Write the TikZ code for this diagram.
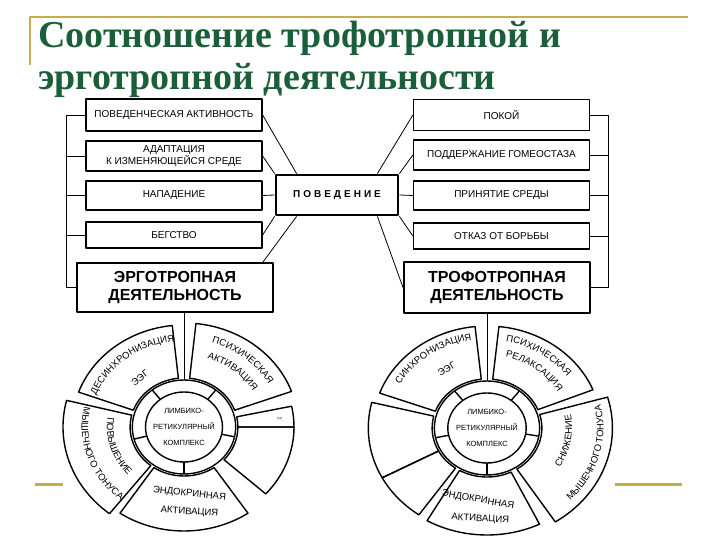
\documentclass[tikz,border=0pt]{standalone}
\usepackage{fontspec}
\setmainfont{Liberation Serif}
\setsansfont{Liberation Sans}
\usetikzlibrary{decorations.text}
\definecolor{titlegreen}{RGB}{26,94,58}
\definecolor{rulegold}{RGB}{196,174,72}
\newcommand\wheelfont{\sffamily\fontsize{9.5}{11}\selectfont}
\tikzset{
  headline/.style={anchor=base west, inner sep=0pt, text=titlegreen, font=\bfseries\fontsize{38}{42}\selectfont},
  smallbox/.style={draw, line width=1.3pt, minimum width=176pt, inner sep=0pt, align=center, font=\sffamily\fontsize{10}{12.5}\selectfont},
  bigbox/.style={draw, line width=2pt, inner sep=0pt, align=center, font=\sffamily\bfseries\fontsize{16}{18.5}\selectfont},
  hubbox/.style={draw, line width=2.8pt, minimum width=122pt, minimum height=40pt, font=\sffamily\bfseries\fontsize{10}{12}\selectfont},
  wheeltext/.style={inner sep=0pt, align=center, font=\wheelfont},
  link/.style={line width=0.8pt}
}

\begin{document}
\begin{tikzpicture}[x=1pt, y=1pt, line join=round]
  \useasboundingbox (0,0) rectangle (720,540);
  % title and rules
  \draw[rulegold, line width=1.5pt] (30,475) -- (30,523) -- (688,523);
  \draw[rulegold, line width=3pt] (35,55) -- (63,55) (615,55) -- (682,55);
  \node[headline] (t1) at (38,492) {Соотношение трофотропной и};
  \node[headline] (t2) at (38,450) {эрготропной деятельности};

  % left column
  \node[smallbox, minimum height=32pt] (lb1) at (174,425) {ПОВЕДЕНЧЕСКАЯ АКТИВНОСТЬ};
  \node[smallbox, minimum height=30pt] (lb2) at (174,384) {АДАПТАЦИЯ\\К ИЗМЕНЯЮЩЕЙСЯ СРЕДЕ};
  \node[smallbox, minimum height=29pt] (lb3) at (174,344.5) {НАПАДЕНИЕ};
  \node[smallbox, minimum height=26pt] (lb4) at (174,305) {БЕГСТВО};
  \node[bigbox, minimum width=196pt, minimum height=49pt] (lbig) at (175,252.5) {ЭРГОТРОПНАЯ\\ДЕЯТЕЛЬНОСТЬ};

  % right column
  \node[smallbox, minimum height=31pt] (rb1) at (501.5,425) {ПОКОЙ};
  \node[smallbox, minimum height=30pt] (rb2) at (501.5,385) {ПОДДЕРЖАНИЕ ГОМЕОСТАЗА};
  \node[smallbox, minimum height=29pt] (rb3) at (501.5,344.5) {ПРИНЯТИЕ СРЕДЫ};
  \node[smallbox, minimum height=26pt] (rb4) at (501.5,304) {ОТКАЗ ОТ БОРЬБЫ};
  \node[bigbox, minimum width=186pt, minimum height=51pt] (rbig) at (497,252.5) {ТРОФОТРОПНАЯ\\ДЕЯТЕЛЬНОСТЬ};

  \node[hubbox] (beh) at (337,345) {\addfontfeature{LetterSpace=30}ПОВЕДЕНИЕ};

  % brackets
  \coordinate (brL) at (66,0);
  \coordinate (brR) at (608,0);
  \draw[link] (lb1.west) -- (lb1.west -| brL) -- (lbig.west -| brL) -- (lbig.west);
  \foreach \b in {lb2,lb3,lb4} \draw[link] (\b.west) -- (\b.west -| brL);
  \draw[link] (rb1.east) -- (rb1.east -| brR) -- (rbig.east -| brR) -- (rbig.east);
  \foreach \b in {rb2,rb3,rb4} \draw[link] (\b.east) -- (\b.east -| brR);

  % fan to the hub
  \draw[link] (lb1.east) -- ([xshift=22pt]beh.north west);
  \draw[link] (lb2.east) -- (beh.north west);
  \draw[link] (lb3.east) -- (beh.west);
  \draw[link] (lb4.east) -- (beh.south west);
  \draw[link] ([xshift=22pt]beh.south west) -- ([xshift=-11pt]lbig.north east);
  \draw[link] (rb1.west) -- ([xshift=-22pt]beh.north east);
  \draw[link] (rb2.west) -- (beh.north east);
  \draw[link] (rb3.west) -- (beh.east);
  \draw[link] (rb4.west) -- (beh.south east);
  \draw[link] ([xshift=-22pt]beh.south east) -- (rbig.west);

  % wheels
  \coordinate (lw) at (184,113);
  \coordinate (rw) at (487,112);
  \draw[link] (lbig.south -| lw) -- ([yshift=47pt]lw);
  \draw[link] (rbig.south -| rw) -- ([yshift=47pt]rw);

  \begin{scope}[shift={(lw)}, xscale=1.1, line width=1.4pt]
    \draw (0,0) circle (35) (0,0) circle (47);
    \foreach \a in {128,52,-12,-90,195} \draw (\a:35) -- (\a:47);
    \foreach \a/\b/\r in {96/160/102, 84/20/104, 12/0/100, 0/-42/100, -56/-124/104, 166/232/110}
      \draw (\a:49) arc[start angle=\a, end angle=\b, radius=49] -- (\b:\r)
        arc[start angle=\b, end angle=\a, radius=\r] -- cycle;
    \node[wheeltext, font=\sffamily\fontsize{7.5}{16}\selectfont] (lcore) at (0,0) {ЛИМБИКО-\\РЕТИКУЛЯРНЫЙ\\КОМПЛЕКС};
    \node[wheeltext, rotate=38] (leeg) at (-40,49) {ЭЭГ};
    \node[wheeltext, font=\sffamily\fontsize{5}{6}\selectfont] (lmark) at (87,8) {==};
    \node[wheeltext, rotate=-6] (lendo) at (5,-67) {ЭНДОКРИННАЯ};
    \node[wheeltext, rotate=-4] (lact) at (5,-85) {АКТИВАЦИЯ};
  \end{scope}
  \begin{scope}[shift={(lw)}]
    \path[decorate, decoration={text along path, text align=center, text={|\wheelfont|ДЕСИНХРОНИЗАЦИЯ}}]
      (178:94.6 and 86) arc[start angle=178, end angle=78, x radius=94.6, y radius=86];
    \path[decorate, decoration={text along path, text align=center, text={|\wheelfont|ПСИХИЧЕСКАЯ}}]
      (100:96.8 and 88) arc[start angle=100, end angle=0, x radius=96.8, y radius=88];
    \path[decorate, decoration={text along path, text align=center, text={|\wheelfont|АКТИВАЦИЯ}}]
      (100:79.2 and 72) arc[start angle=100, end angle=0, x radius=79.2, y radius=72];
    \path[decorate, decoration={text along path, text align=center, text={|\wheelfont|МЫШЕЧНОГО ТОНУСА}}]
      (149:102.3 and 93) arc[start angle=149, end angle=249, x radius=102.3, y radius=93];
    \path[decorate, decoration={text along path, text align=center, text={|\wheelfont|ПОВЫШЕНИЕ}}]
      (147:77 and 70) arc[start angle=147, end angle=247, x radius=77, y radius=70];
  \end{scope}

  \begin{scope}[shift={(rw)}, xscale=1.12, line width=1.4pt]
    \draw (0,0) circle (35) (0,0) circle (47);
    \foreach \a in {128,52,-10,-90,192} \draw (\a:35) -- (\a:47);
    \foreach \a/\b/\r in {96/160/102, 84/22/102, 16/-57/112, -64/-120/107, 235/208/106, 208/166/106}
      \draw (\a:49) arc[start angle=\a, end angle=\b, radius=49] -- (\b:\r)
        arc[start angle=\b, end angle=\a, radius=\r] -- cycle;
    \node[wheeltext, font=\sffamily\fontsize{7.5}{16}\selectfont] (rcore) at (0,0) {ЛИМБИКО-\\РЕТИКУЛЯРНЫЙ\\КОМПЛЕКС};
    \node[wheeltext, rotate=32] (reeg) at (-36,59) {ЭЭГ};
    \node[wheeltext, rotate=-10] (rendo) at (-8,-72) {ЭНДОКРИННАЯ};
    \node[wheeltext, rotate=-3] (ract) at (-6,-91) {АКТИВАЦИЯ};
  \end{scope}
  \begin{scope}[shift={(rw)}]
    \path[decorate, decoration={text along path, text align=center, text={|\wheelfont|СИНХРОНИЗАЦИЯ}}]
      (176:99.7 and 89) arc[start angle=176, end angle=76, x radius=99.7, y radius=89];
    \path[decorate, decoration={text along path, text align=center, text={|\wheelfont|ПСИХИЧЕСКАЯ}}]
      (106:98.6 and 88) arc[start angle=106, end angle=6, x radius=98.6, y radius=88];
    \path[decorate, decoration={text along path, text align=center, text={|\wheelfont|РЕЛАКСАЦИЯ}}]
      (102:81.8 and 73) arc[start angle=102, end angle=2, x radius=81.8, y radius=73];
    \path[decorate, decoration={text along path, text align=center, text={|\wheelfont|МЫШЕЧНОГО ТОНУСА}}]
      (-65:116.5 and 104) arc[start angle=-65, end angle=35, x radius=116.5, y radius=104];
    \path[decorate, decoration={text along path, text align=center, text={|\wheelfont|СНИЖЕНИЕ}}]
      (-60:85.1 and 76) arc[start angle=-60, end angle=40, x radius=85.1, y radius=76];
  \end{scope}
\end{tikzpicture}
\end{document}
